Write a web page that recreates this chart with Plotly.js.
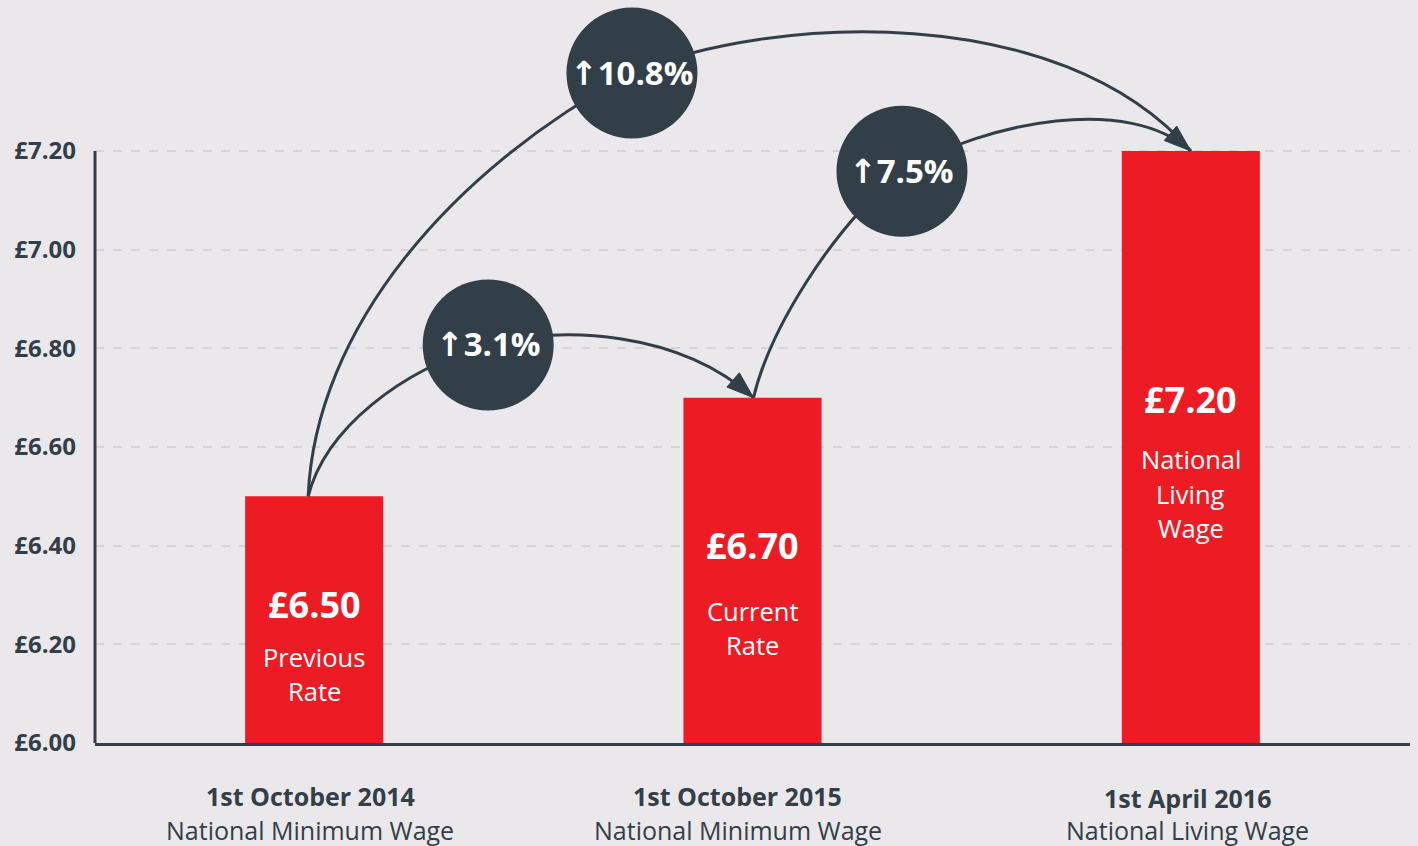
<!DOCTYPE html>
<html>
<head>
<meta charset="utf-8">
<script src="https://cdn.plot.ly/plotly-3.0.1.min.js"></script>
<style>
  html, body { margin: 0; padding: 0; background: #eae8eb; }
  #chart { width: 1418px; height: 846px; }
</style>
</head>
<body>
<div id="chart"></div>
<script>
// ---- data ----
const categories = ['1st October 2014', '1st October 2015', '1st April 2016'];
const subLabels = ['National Minimum Wage', 'National Minimum Wage', 'National Living Wage'];
const wages = [6.50, 6.70, 7.20];
const wageLabels = ['£6.50', '£6.70', '£7.20'];
const rateNames = [['Previous', 'Rate'], ['Current', 'Rate'], ['National', 'Living', 'Wage']];
const changeFrom = [0, 0, 1];
const changeTo = [1, 2, 2];
const changeLabels = ['3.1%', '10.8%', '7.5%'];
const yTickVals = [6.00, 6.20, 6.40, 6.60, 6.80, 7.00, 7.20];
const yTickText = ['£6.00', '£6.20', '£6.40', '£6.60', '£6.80', '£7.00', '£7.20'];

// ---- style / layout geometry ----
const W = 1418, H = 846;
const M = {l: 95, r: 8, t: 3, b: 103};
const xRange = [-0.5, 2.5], yRange = [6.0, 7.5];
const DARK = '#323e48', RED = '#ed1c24', BG = '#eae8eb';
const FONT = 'Open Sans, Noto Sans, sans-serif';

const pw = W - M.l - M.r, ph = H - M.t - M.b;
const d2p = (x, y) => [M.l + (x - xRange[0]) / (xRange[1] - xRange[0]) * pw,
                       M.t + (yRange[1] - y) / (yRange[1] - yRange[0]) * ph];
const p2d = (px, py) => [xRange[0] + (px - M.l) / pw * (xRange[1] - xRange[0]),
                         yRange[1] - (py - M.t) / ph * (yRange[1] - yRange[0])];
const fmt = (p) => { const d = p2d(p[0], p[1]); return d[0].toFixed(5) + ',' + d[1].toFixed(5); };

const xs = categories.map((c, i) => i);

// circle centres (data coords) and curve styling (pixel offsets of control points)
const circleCentres = [[0.397, 6.807], [0.725, 7.358], [1.341, 7.159]];
const startShift = [[-6, 0], [-6, 0], [1, 0]];
const ctrlA = [[[17, -67], [-88, 25]], [[7, -167], [-182, 97]], [[16, -67], [-72, 59]]];
const ctrlB = [[[72, -20], [-74, -67]], [[138, -58], [-132, -151]], [[88, -51], [-62, -56]]];
const endShift = [[1, 0], [0, 0], [0, 0]];

const shapes = [];
const add = (a, b) => [a[0] + b[0], a[1] + b[1]];
changeLabels.forEach((lab, k) => {
  const s = add(d2p(xs[changeFrom[k]], wages[changeFrom[k]]), startShift[k]);
  const c = d2p(circleCentres[k][0], circleCentres[k][1]);
  const e = add(d2p(xs[changeTo[k]], wages[changeTo[k]]), endShift[k]);
  const path = 'M' + fmt(s) +
    ' C' + fmt(add(s, ctrlA[k][0])) + ' ' + fmt(add(c, ctrlA[k][1])) + ' ' + fmt(c) +
    ' C' + fmt(add(c, ctrlB[k][0])) + ' ' + fmt(add(e, ctrlB[k][1])) + ' ' + fmt(e);
  shapes.push({type: 'path', xref: 'x', yref: 'y', path: path,
               line: {color: DARK, width: 3}, fillcolor: 'rgba(0,0,0,0)'});
});
// arrow heads at bar tops that receive an arrow
[...new Set(changeTo)].forEach(t => {
  const tip = add(d2p(xs[t], wages[t]), t === 1 ? [1, 0] : [0, 0]);
  const ang = 41 * Math.PI / 180, L = 27, hw = 9.5;
  const ux = Math.cos(ang), uy = Math.sin(ang);
  const bx = tip[0] - ux * L, by = tip[1] - uy * L;
  const p1 = [bx - uy * hw, by + ux * hw], p2 = [bx + uy * hw, by - ux * hw];
  shapes.push({type: 'path', xref: 'x', yref: 'y',
               path: 'M' + fmt(tip) + ' L' + fmt(p1) + ' L' + fmt(p2) + ' Z',
               fillcolor: DARK, line: {color: DARK, width: 1}});
});
// circles
circleCentres.forEach(c => {
  shapes.push({type: 'circle', xref: 'x', yref: 'y', xsizemode: 'pixel', ysizemode: 'pixel',
               xanchor: c[0], yanchor: c[1], x0: -65.5, x1: 65.5, y0: -65.5, y1: 65.5,
               fillcolor: DARK, line: {width: 0}});
});
// y axis line (stops at top tick)
shapes.push({type: 'line', xref: 'paper', yref: 'y', x0: 0, x1: 0,
             y0: yRange[0], y1: yTickVals[yTickVals.length - 1],
             line: {color: DARK, width: 3}});

const annotations = [];
circleCentres.forEach((c, k) => {
  annotations.push({x: c[0], y: c[1], xref: 'x', yref: 'y', showarrow: false, yshift: 1,
    text: '<span style="font-family:\'DejaVu Sans\'"><b>↑</b></span><b>' + changeLabels[k] + '</b>',
    font: {family: FONT, size: 33, color: '#ffffff'}});
});
// label positions inside bars (data y)
const valueY = [6.280, 6.401, 6.697];
const nameY = [[6.174, 6.105], [6.268, 6.199], [6.576, 6.505, 6.436]];
wageLabels.forEach((w, i) => {
  annotations.push({x: xs[i], y: valueY[i], xref: 'x', yref: 'y', showarrow: false,
    text: '<b>' + w + '</b>', font: {family: FONT, size: 36, color: '#ffffff'}});
  rateNames[i].forEach((n, j) => {
    annotations.push({x: xs[i], y: nameY[i][j], xref: 'x', yref: 'y', showarrow: false,
      text: n, font: {family: FONT, size: 25.5, color: '#ffffff'}});
  });
});
// category labels under the axis (pixel offsets from bar centre / axis line)
const catShift = [[-53, -87], [-53, -87], [-55, -87]];
const catXShift = [-4, -15, -3];
categories.forEach((c, i) => {
  annotations.push({x: xs[i], y: 0, xref: 'x', yref: 'paper', showarrow: false,
    yanchor: 'middle', yshift: catShift[i][0], xshift: catXShift[i],
    text: '<b>' + c + '</b>', font: {family: FONT, size: 25, color: DARK}});
  annotations.push({x: xs[i], y: 0, xref: 'x', yref: 'paper', showarrow: false,
    yanchor: 'middle', yshift: catShift[i][1], xshift: catXShift[i],
    text: subLabels[i], font: {family: FONT, size: 25, color: DARK}});
});

const trace = {
  type: 'bar', x: xs, y: wages, base: 0, width: 0.315,
  marker: {color: RED, line: {width: 0}}, hoverinfo: 'skip'
};

const layout = {
  width: W, height: H, margin: M,
  paper_bgcolor: BG, plot_bgcolor: BG,
  showlegend: false,
  font: {family: FONT, color: DARK},
  xaxis: {
    type: 'linear', range: xRange, tickvals: xs, showticklabels: false,
    showgrid: false, zeroline: false, showline: true, linecolor: DARK, linewidth: 3,
    ticks: '', fixedrange: true
  },
  yaxis: {
    range: yRange, tickvals: yTickVals,
    ticktext: yTickText.map(t => '<b>' + t + '</b>'),
    tickfont: {family: FONT, size: 24, color: DARK},
    showgrid: true, gridcolor: '#d5d4d8', gridwidth: 2, griddash: 'dash',
    zeroline: false, showline: false, ticks: '', ticklabelstandoff: 18, fixedrange: true
  },
  shapes: shapes,
  annotations: annotations
};

Plotly.newPlot('chart', [trace], layout, {displayModeBar: false, staticPlot: true});
</script>
</body>
</html>
